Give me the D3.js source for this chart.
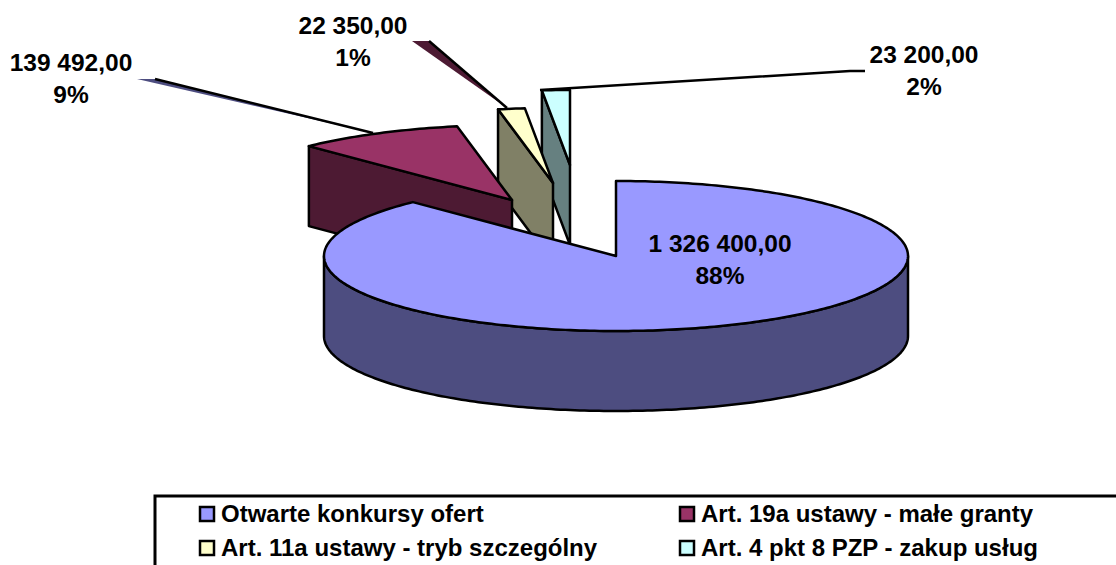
<!DOCTYPE html>
<html>
<head>
<meta charset="utf-8">
<script src="https://cdnjs.cloudflare.com/ajax/libs/d3/7.8.5/d3.min.js"></script>
<style>
html, body { margin: 0; padding: 0; background: #fff; overflow: hidden; }
text { font-family: "Liberation Sans", Arial, sans-serif; font-weight: bold; fill: #000; }
</style>
</head>
<body>
<div id="chart"></div>
<script>
var categories = ["Otwarte konkursy ofert", "Art. 19a ustawy - małe granty", "Art. 11a ustawy - tryb szczególny", "Art. 4 pkt 8 PZP - zakup usług"];
var values = [1326400, 139492, 22350, 23200];
var topColors = ["#9999ff", "#993366", "#ffffcc", "#ccffff"];
var sideColors = ["#4d4d80", "#4d1a33", "#808066", "#668080"];

// how far each slice is pulled out of the pie, px
var explode = [[0, 0], [-104, -56], [-63, -73], [-46, -91]];
var labelPos = [[720, 244], [71, 63], [353, 26], [924, 55]];

var width = 1116, height = 565;
var cx = 616, cy = 256, rx = 292, ry = 75, depth = 80;

var svg = d3.select("#chart").append("svg")
    .attr("width", width)
    .attr("height", height)
    .style("display", "block");

var pie = d3.pie().sort(null)(values);
var total = d3.sum(values);
var polish = d3.formatLocale({decimal: ",", thousands: " ", grouping: [3], currency: ["", " zł"]});
var fmtValue = polish.format(",.2f");
var fmtPct = d3.format(".0%");

function pt(a, i, down) {
    return [cx + explode[i][0] + Math.sin(a) * rx,
            cy + explode[i][1] - Math.cos(a) * ry + (down || 0)];
}
function apex(i, down) {
    return [cx + explode[i][0], cy + explode[i][1] + (down || 0)];
}
function arcPts(a0, a1, i, down) {
    var n = Math.max(2, Math.ceil(Math.abs(a1 - a0) * 60));
    return d3.range(n + 1).map(function(k) {
        return pt(a0 + (a1 - a0) * k / n, i, down);
    });
}
var line = d3.line();

function poly(pts, fill) {
    svg.append("path")
        .attr("d", line(pts) + "Z")
        .attr("fill", fill)
        .attr("stroke", "#000")
        .attr("stroke-width", 2.5)
        .attr("stroke-linejoin", "round");
}

// leader lines go behind the slices
function leader(pts, fill) {
    svg.append("path").attr("d", line(pts) + "Z").attr("fill", fill);
    svg.append("path").attr("d", line(pts.slice(1))).attr("fill", "none")
        .attr("stroke", "#000").attr("stroke-width", 2.5);
}
leader([[137, 79], [155, 79], [373, 133]], sideColors[0]);
leader([[412, 41], [429, 41], [507, 108]], sideColors[1]);
svg.append("path")
    .attr("d", line([[540, 90], [850, 71], [865, 71]]))
    .attr("fill", "none").attr("stroke", "#000").attr("stroke-width", 2.5);

// back to front: slices on the far side first, big slice last
[3, 2, 1, 0].forEach(function(i) {
    var d = pie[i];
    // outer wall, only the front half of the rim shows
    var w0 = Math.max(d.startAngle, Math.PI / 2), w1 = Math.min(d.endAngle, Math.PI * 1.5);
    if (w1 > w0) {
        poly(arcPts(w0, w1, i).concat(arcPts(w1, w0, i, depth)), sideColors[i]);
    }
    // cut face of slices sitting at the back
    if (d.startAngle > Math.PI) {
        poly([pt(d.startAngle, i), apex(i), apex(i, depth), pt(d.startAngle, i, depth)], sideColors[i]);
    }
    poly([apex(i)].concat(arcPts(d.startAngle, d.endAngle, i)), topColors[i]);
});

// data labels
values.forEach(function(v, i) {
    var t = svg.append("text")
        .attr("text-anchor", "middle")
        .style("font-size", "24.5px");
    t.append("tspan").attr("x", labelPos[i][0]).attr("y", labelPos[i][1] + 8).text(fmtValue(v));
    t.append("tspan").attr("x", labelPos[i][0]).attr("y", labelPos[i][1] + 40).text(fmtPct(v / total));
});

// legend, its bottom edge runs off the page
svg.append("rect")
    .attr("x", 155).attr("y", 496)
    .attr("width", 1040).attr("height", 120)
    .attr("fill", "#fff").attr("stroke", "#000").attr("stroke-width", 3);

var legendX = d3.scaleOrdinal().domain([0, 1]).range([200, 680]);
var legendY = d3.scaleOrdinal().domain([0, 1]).range([514, 548]);
categories.forEach(function(c, i) {
    var col = i % 2, row = Math.floor(i / 2);
    svg.append("rect")
        .attr("x", legendX(col)).attr("y", legendY(row) - 7)
        .attr("width", 14).attr("height", 14)
        .attr("fill", topColors[i]).attr("stroke", "#000").attr("stroke-width", 2.5);
    svg.append("text")
        .attr("x", legendX(col) + 21).attr("y", legendY(row) + 8)
        .style("font-size", "24px")
        .text(c);
});
</script>
</body>
</html>
